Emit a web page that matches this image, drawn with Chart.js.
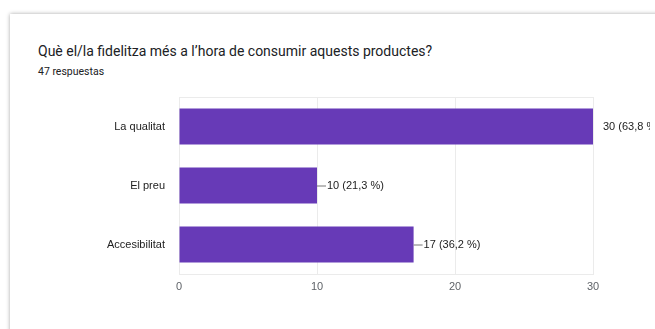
<!DOCTYPE html>
<html>
<head>
<meta charset="utf-8">
<script src="https://cdn.jsdelivr.net/npm/chart.js@4"></script>
<style>
  html, body { margin: 0; padding: 0; background: #fff; width: 655px; height: 329px; overflow: hidden; }
  .card {
    position: absolute; left: 10px; top: 14px; width: 700px; height: 400px;
    background: #fff; box-shadow: 0 0 4px rgba(0, 0, 0, 0.35);
  }
  .title {
    position: absolute; left: 38px; top: 43px;
    font-family: Roboto, sans-serif; font-size: 14px; color: #202124;
  }
  .subtitle {
    position: absolute; left: 38px; top: 65px;
    font-family: Roboto, sans-serif; font-size: 10.5px; color: #202124;
  }
  #chart { position: absolute; left: 0; top: 0; }
</style>
</head>
<body>
<div class="card"></div>
<div class="title">Què el/la fidelitza més a l’hora de consumir aquests productes?</div>
<div class="subtitle">47 respuestas</div>
<canvas id="chart" width="655" height="329"></canvas>
<script>
const CATEGORIES = ['La qualitat', 'El preu', 'Accesibilitat'];
const COUNTS = [30, 10, 17];
const PERCENTS = ['63,8', '21,3', '36,2'];
const X_TICKS = [0, 10, 20, 30];

const COLORS = {
  bar: '#673ab7',
  grid: '#ebebeb',
  axis: '#333333',
  label: '#222222',
  tick: '#5f6368',
};

const frame = {
  id: 'frame',
  beforeDatasetsDraw(chart) {
    const { ctx, chartArea: a } = chart;
    ctx.save();
    ctx.strokeStyle = COLORS.grid;
    ctx.lineWidth = 1;
    ctx.strokeRect(a.left + 0.5, a.top + 0.5, a.right - a.left, a.bottom - a.top);
    ctx.restore();
  },
};

const barLabels = {
  id: 'barLabels',
  afterDatasetsDraw(chart) {
    const { ctx, chartArea: a } = chart;
    const meta = chart.getDatasetMeta(0);
    ctx.save();
    ctx.beginPath();
    ctx.rect(0, 0, 650, 329);
    ctx.clip();
    ctx.font = '11px "Liberation Sans", Arial, sans-serif';
    ctx.textBaseline = 'middle';
    ctx.fillStyle = COLORS.label;
    meta.data.forEach((bar, i) => {
      const text = `${COUNTS[i]} (${PERCENTS[i]} %)`;
      if (bar.x >= a.right - 1) {
        ctx.fillText(text, bar.x + 10, bar.y);
      } else {
        ctx.strokeStyle = '#777';
        ctx.lineWidth = 1;
        ctx.beginPath();
        ctx.moveTo(bar.x, bar.y + 0.5);
        ctx.lineTo(bar.x + 9, bar.y + 0.5);
        ctx.stroke();
        ctx.fillText(text, bar.x + 10, bar.y);
      }
    });
    ctx.restore();
  },
};

new Chart(document.getElementById('chart'), {
  type: 'bar',
  data: {
    labels: CATEGORIES,
    datasets: [
      {
        data: COUNTS,
        backgroundColor: COLORS.bar,
        barPercentage: 0.61,
        categoryPercentage: 1,
      },
    ],
  },
  options: {
    indexAxis: 'y',
    responsive: false,
    animation: false,
    layout: { padding: { left: 0, top: 97, right: 62, bottom: 35 } },
    plugins: { legend: { display: false }, tooltip: { enabled: false } },
    scales: {
      x: {
        min: 0,
        max: 30,
        afterFit: (scale) => { scale.height = 20; },
        afterBuildTicks: (scale) => { scale.ticks = X_TICKS.map((v) => ({ value: v })); },
        grid: { color: COLORS.grid, drawTicks: false },
        border: { display: false },
        ticks: {
          padding: 6,
          color: COLORS.tick,
          font: { family: '"Liberation Sans", Arial, sans-serif', size: 11 },
        },
      },
      y: {
        afterFit: (scale) => { scale.width = 179; },
        grid: { display: false, drawTicks: false },
        border: { display: true, color: COLORS.axis, width: 1 },
        ticks: {
          padding: 14,
          color: COLORS.label,
          font: { family: '"Liberation Sans", Arial, sans-serif', size: 11 },
        },
      },
    },
  },
  plugins: [frame, barLabels],
});
</script>
</body>
</html>
